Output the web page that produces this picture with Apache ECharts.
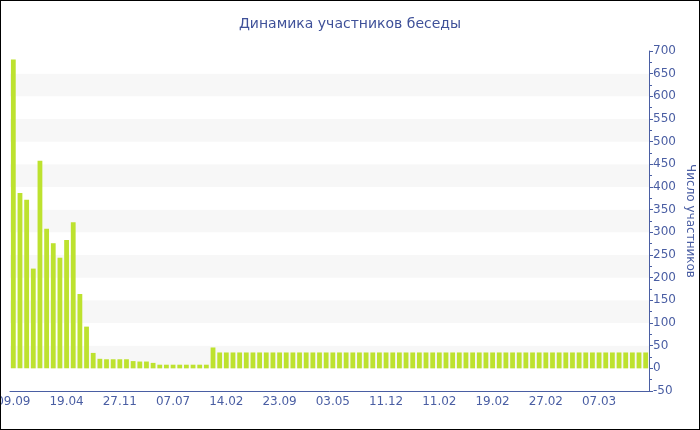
<!DOCTYPE html>
<html><head><meta charset="utf-8">
<script src="https://cdn.jsdelivr.net/npm/echarts@6/dist/echarts.min.js"></script>
<style>
html,body{margin:0;padding:0;background:#fff;}
#wrap{position:relative;width:700px;height:430px;}
#chart{position:absolute;left:0;top:0;width:700px;height:430px;}
#frame{position:absolute;left:0;top:0;width:700px;height:430px;box-sizing:border-box;border:1px solid #000;pointer-events:none;}
</style></head>
<body>
<div id="wrap"><div id="chart"></div><div id="frame"></div></div>
<script>
var titleText = 'Динамика участников беседы';
var yName = 'Число участников';
var tickLabels = ['09.09','19.04','27.11','07.07','14.02','23.09','03.05','11.12','11.02','19.02','27.02','07.03'];
var headValues = [681,387,372,220,458,308,276,244,283,322,164,92,34,21,20,20,20,20,16,15,15,12,8,8,8,8,8,8,8,8,46];
var tailValue = [35];
var tailCount = [65];

var values = headValues.slice();
for (var i = 0; i < tailCount[0]; i++) values.push(tailValue[0]);
var categories = [];
for (var j = 0; j < values.length; j++) {
  categories.push(j % 8 === 0 && tickLabels[j / 8] ? tickLabels[j / 8] : ' '.repeat(1 + j));
}

var blue = '#4a5ea3';
var chart = echarts.init(document.getElementById('chart'));
chart.setOption({
  animation: false,
  textStyle: {fontFamily: 'DejaVu Sans'},
  title: {
    text: titleText, left: 'center', top: 12,
    textStyle: {color: '#3f5199', fontSize: 14, fontWeight: 'normal', fontFamily: 'DejaVu Sans'}
  },
  grid: {left: 10, right: 51, top: 51, bottom: 39, containLabel: false, outerBoundsMode: 'none'},
  xAxis: {
    type: 'category', data: categories,
    axisLine: {onZero: false, lineStyle: {color: blue}},
    axisTick: {alignWithLabel: true, interval: 7, length: 3, lineStyle: {color: blue}},
    axisLabel: {interval: 7, color: blue, fontSize: 12, margin: 5, showMinLabel: true,
      formatter: function (v) { return v.trim(); }},
    splitLine: {show: false}
  },
  yAxis: {
    type: 'value', position: 'right', min: -50, max: 700, interval: 50,
    name: yName, nameLocation: 'middle', nameRotate: -90, nameGap: 35, nameMoveOverlap: false,
    nameTextStyle: {color: blue, fontSize: 12},
    axisLine: {show: true, lineStyle: {color: blue}},
    axisTick: {show: true, length: 4, lineStyle: {color: blue}},
    minorTick: {show: true, splitNumber: 2, length: 3, lineStyle: {color: blue}},
    axisLabel: {color: blue, fontSize: 12, margin: 4},
    splitLine: {show: false},
    splitArea: {show: true, areaStyle: {color: ['#ffffff', '#f7f7f7']}}
  },
  series: [{
    type: 'bar', data: values, barWidth: '72%',
    itemStyle: {color: '#bde22f'}
  }]
});
</script>
</body></html>
